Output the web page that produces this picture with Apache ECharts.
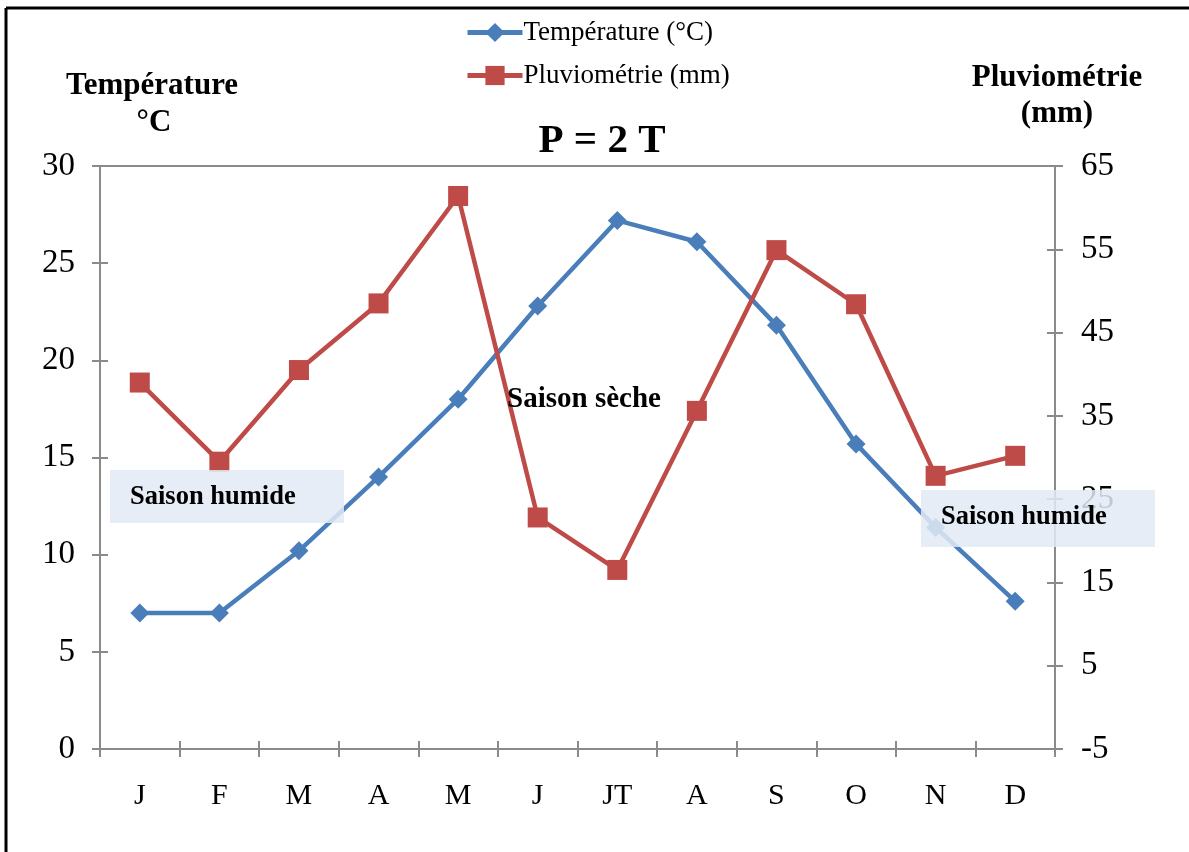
<!DOCTYPE html>
<html>
<head>
<meta charset="utf-8">
<script src="https://cdn.jsdelivr.net/npm/echarts@6/dist/echarts.min.js"></script>
<style>
html,body{margin:0;padding:0;background:#fff;}
#chart{width:1189px;height:852px;}
</style>
</head>
<body>
<div id="chart"></div>
<script>
// ---- Data ----
const months = ['J', 'F', 'M', 'A', 'M', 'J', 'JT', 'A', 'S', 'O', 'N', 'D'];
const temperature = [7.0, 7.0, 10.2, 14.0, 18.0, 22.8, 27.2, 26.1, 21.8, 15.7, 11.4, 7.6];
const pluviometrie = [39.0, 29.5, 40.5, 48.5, 61.4, 22.8, 16.5, 35.6, 54.9, 48.4, 27.8, 30.2];
const seriesNames = ['Température (°C)', 'Pluviométrie (mm)'];
const tempAxis = { min: 0, max: 30, interval: 5 };
const pluvAxis = { min: -5, max: 65, interval: 10 };
const titleText = 'P = 2 T';
const leftAxisTitle = ['Température', '°C'];
const rightAxisTitle = ['Pluviométrie', '(mm)'];
const annotations = ['Saison sèche', 'Saison humide'];

// ---- Styles ----
const FONT = '"Liberation Serif", "Times New Roman", serif';
const AXIS_COLOR = '#8a8a8a';
const BLUE = '#4A7EBB';
const RED = '#BE4B48';
const BOX_FILL = 'rgba(226,234,244,0.85)';

const chart = echarts.init(document.getElementById('chart'), null, { renderer: 'canvas' });

function xAxisBase(extra) {
  return Object.assign({
    type: 'category',
    data: months,
    position: 'bottom',
    boundaryGap: true,
    axisLine: { show: true, onZero: false, lineStyle: { color: AXIS_COLOR, width: 2 } },
    axisTick: { show: true, length: 8, inside: false, interval: 0, lineStyle: { color: AXIS_COLOR, width: 2 } },
    axisLabel: { show: true, interval: 0, color: '#000', fontFamily: FONT, fontSize: 30, margin: 32 },
    splitLine: { show: false }
  }, extra);
}

function yAxisBase(pos, range, margin, extra) {
  return Object.assign({
    type: 'value',
    position: pos,
    min: range.min,
    max: range.max,
    interval: range.interval,
    axisLine: { show: true, onZero: false, lineStyle: { color: AXIS_COLOR, width: 2 } },
    axisTick: { show: true, length: 8, inside: false, lineStyle: { color: AXIS_COLOR, width: 2 } },
    axisLabel: { show: true, color: '#000', fontFamily: FONT, fontSize: 33, margin: margin },
    splitLine: { show: false }
  }, extra);
}

const innerTick = { show: true, inside: true, length: 8, lineStyle: { color: AXIS_COLOR, width: 2 } };

const option = {
  animation: false,
  backgroundColor: '#fff',
  title: {
    text: titleText,
    left: 597,
    textAlign: 'center',
    top: 116,
    textStyle: { fontFamily: FONT, fontWeight: 'bold', fontSize: 41, color: '#000' }
  },
  legend: {
    orient: 'vertical',
    left: 465,
    top: 19,
    padding: 0,
    itemWidth: 55,
    itemHeight: 24,
    itemGap: 16,
    lineStyle: { width: 5 },
    textStyle: { fontFamily: FONT, fontSize: 27, color: '#000', padding: [0, 0, 0, -4] },
    data: seriesNames
  },
  grid: { left: 100, right: 134, top: 166, bottom: 103, containLabel: false },
  xAxis: [
    xAxisBase({}),
    xAxisBase({ axisLine: { show: false, onZero: false }, axisTick: Object.assign({ interval: 0 }, innerTick), axisLabel: { show: false } }),
    xAxisBase({ position: 'top', axisTick: { show: false }, axisLabel: { show: false } })
  ],
  yAxis: [
    yAxisBase('left', tempAxis, 25, {}),
    yAxisBase('left', tempAxis, 25, { axisLine: { show: false, onZero: false }, axisTick: innerTick, axisLabel: { show: false } }),
    yAxisBase('right', pluvAxis, 26, {}),
    yAxisBase('right', pluvAxis, 26, { axisLine: { show: false, onZero: false }, axisTick: innerTick, axisLabel: { show: false } })
  ],
  series: [
    {
      name: seriesNames[0],
      type: 'line',
      xAxisIndex: 0,
      yAxisIndex: 0,
      data: temperature,
      symbol: 'diamond',
      symbolSize: 19,
      showAllSymbol: true,
      lineStyle: { color: BLUE, width: 4.5 },
      itemStyle: { color: BLUE },
      z: 3
    },
    {
      name: seriesNames[1],
      type: 'line',
      xAxisIndex: 0,
      yAxisIndex: 2,
      data: pluviometrie,
      symbol: 'rect',
      symbolSize: 20,
      showAllSymbol: true,
      lineStyle: { color: RED, width: 4.5 },
      itemStyle: { color: RED },
      z: 3
    }
  ],
  graphic: [
    // outer frame (top & left edges)
    { type: 'line', z: 200, shape: { x1: 6, y1: 8, x2: 1189, y2: 8 }, style: { stroke: '#000', lineWidth: 3 } },
    { type: 'line', z: 200, shape: { x1: 6, y1: 8, x2: 6, y2: 852 }, style: { stroke: '#000', lineWidth: 3 } },
    // axis titles
    { type: 'text', z: 200, x: 152, y: 86, style: { text: leftAxisTitle[0], align: 'center', verticalAlign: 'middle', font: 'bold 31px ' + FONT, fill: '#000' } },
    { type: 'text', z: 200, x: 154, y: 123, style: { text: leftAxisTitle[1], align: 'center', verticalAlign: 'middle', font: 'bold 31px ' + FONT, fill: '#000' } },
    { type: 'text', z: 200, x: 1057, y: 78, style: { text: rightAxisTitle[0], align: 'center', verticalAlign: 'middle', font: 'bold 31px ' + FONT, fill: '#000' } },
    { type: 'text', z: 200, x: 1057, y: 114, style: { text: rightAxisTitle[1], align: 'center', verticalAlign: 'middle', font: 'bold 31px ' + FONT, fill: '#000' } },
    // annotations
    { type: 'text', z: 200, x: 584, y: 400, style: { text: annotations[0], align: 'center', verticalAlign: 'middle', font: 'bold 29px ' + FONT, fill: '#000' } },
    { type: 'rect', z: 190, shape: { x: 110, y: 470, width: 234, height: 53 }, style: { fill: BOX_FILL } },
    { type: 'text', z: 200, x: 130, y: 497, style: { text: annotations[1], align: 'left', verticalAlign: 'middle', font: 'bold 26.5px ' + FONT, fill: '#000' } },
    { type: 'rect', z: 190, shape: { x: 921, y: 490, width: 234, height: 57 }, style: { fill: BOX_FILL } },
    { type: 'text', z: 200, x: 941, y: 517, style: { text: annotations[1], align: 'left', verticalAlign: 'middle', font: 'bold 26.5px ' + FONT, fill: '#000' } }
  ]
};

chart.setOption(option);
</script>
</body>
</html>
